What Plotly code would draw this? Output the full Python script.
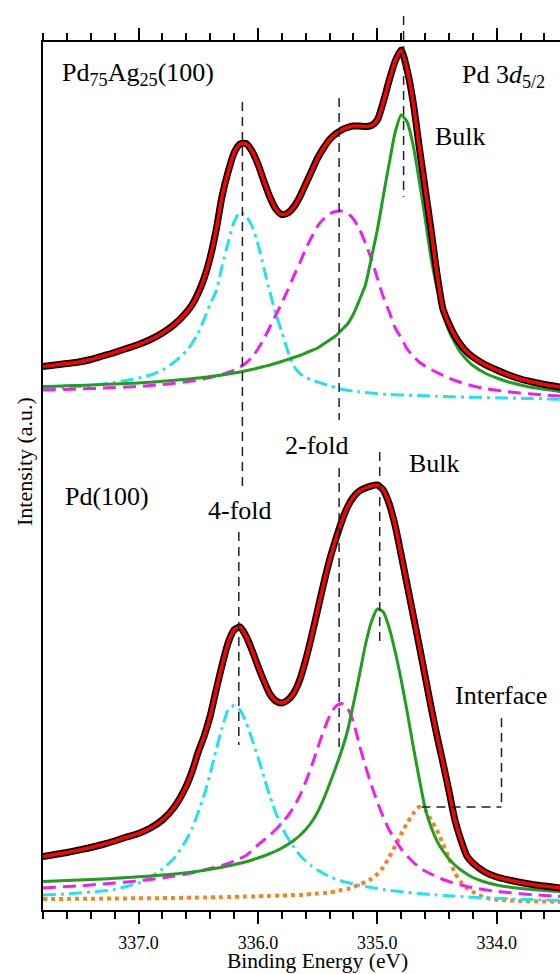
import plotly.graph_objects as go

# ---------------- data ----------------
ENERGY_EV = [337.8, 337.7, 337.6, 337.5, 337.4, 337.3, 337.2, 337.1, 337.0, 336.9, 336.8, 336.7,
             336.6, 336.55, 336.5, 336.45, 336.4, 336.35, 336.3, 336.25, 336.2, 336.15, 336.1, 336.05,
             336.0, 335.95, 335.9, 335.85, 335.8, 335.75, 335.7, 335.65, 335.6, 335.55, 335.5, 335.45,
             335.4, 335.35, 335.3, 335.25, 335.2, 335.15, 335.1, 335.05, 335.0, 334.95, 334.9, 334.85,
             334.8, 334.75, 334.7, 334.65, 334.6, 334.55, 334.5, 334.45, 334.4, 334.35, 334.3, 334.25,
             334.2, 334.1, 334.0, 333.9, 333.8, 333.7, 333.6, 333.5, 333.4]

# Pd75Ag25(100) spectrum (intensity, a.u.)
PDAG_ENVELOPE = [33.5, 35, 36.5, 38, 40.5, 44, 47.5, 51.5, 55.5, 60.5, 67, 75.5,
                 87.5, 95.5, 107, 122, 142.5, 170, 204, 228, 247, 256, 256.5, 249,
                 236, 219, 203, 191, 185.5, 187, 193, 203, 216, 229, 242, 252,
                 260.5, 266, 270, 272.5, 274, 274, 273.5, 274.5, 280, 298, 320, 339,
                 350, 330, 298, 254, 212, 170, 126, 91, 76, 64, 55, 48,
                 43, 35.5, 30, 25, 21, 18, 15.5, 13.5, 11.5]
PDAG_4FOLD = [11.8, 12.2, 12.8, 13.5, 14.5, 16, 17.5, 19.5, 22, 25, 30, 38,
              49, 57, 67, 81, 96, 109, 134, 157, 178, 188, 184, 174,
              156, 132, 108, 86, 68, 49, 34, 26.5, 22.5, 20, 18, 16,
              14.2, 12.3, 10.8, 9.7, 9, 8.2, 7.5, 7, 6.3, 5.8, 5.5, 5.2,
              5, 4.8, 4.6, 4.4, 4.2, 4, 3.8, 3.5, 3.3, 3.1, 3, 2.9,
              2.8, 2.5, 2.2, 2, 1.7, 1.4, 1.1, 0.8, 0.5]
PDAG_2FOLD = [10, 10.3, 10.6, 11, 11.4, 11.9, 12.4, 13, 13.7, 14.5, 15.5, 16.7,
              18.2, 19, 20, 21.2, 22.5, 24, 25.5, 27.5, 30, 33, 37, 43,
              51, 61, 73, 85, 97, 110, 124, 137, 151, 163, 174, 181,
              186, 188.5, 189, 187, 181, 171, 157, 141, 122, 103, 88, 72,
              62, 51, 44, 38, 34, 30.5, 27.5, 24.5, 22, 19.5, 17.5, 15.7,
              14, 11.5, 9.7, 8.2, 7, 6, 5, 4.2, 3.5]
PDAG_BULK = [13.5, 13.8, 14.2, 14.6, 15, 15.5, 16, 16.5, 17, 17.8, 18.7, 19.7,
             20.8, 21.4, 22, 22.7, 23.4, 24.2, 25, 26, 27, 28, 29.2, 30.5,
             32, 33.5, 35, 36.7, 38.5, 40.5, 42.5, 44.5, 47, 49.5, 52, 56,
             60, 64, 70, 76, 86, 100, 115, 142, 170, 204, 237, 268,
             285, 278, 255, 220, 182, 142, 112, 87, 69, 57, 47, 40,
             34.5, 27, 22, 18, 15, 12.5, 10.7, 9, 7.7]

# Pd(100) spectrum (intensity, a.u.)
PD_ENVELOPE = [53, 55, 57, 59.5, 62, 65, 68.5, 72.5, 76, 81.5, 89.5, 102.5,
               123.5, 138.5, 157.5, 173.5, 193.5, 219.5, 244.5, 266.5, 279.5, 282.5, 273.5, 259.5,
               243.5, 228.5, 215.5, 208.5, 206.5, 209.5, 216.5, 229.5, 249.5, 273.5, 299.5, 325.5,
               349.5, 369.5, 387.5, 402.5, 412.5, 418.5, 421.5, 423.5, 424.5, 419.5, 405.5, 383.5,
               354.5, 324.5, 294.5, 264.5, 233.5, 202.5, 173.5, 146.5, 118.5, 89.5, 69.5, 53.5,
               46.5, 37.5, 32.5, 29.5, 27, 25, 23.5, 22, 20.5]
PD_4FOLD = [14.5, 15, 15.5, 16.5, 17.5, 18.5, 20, 23, 26.5, 32.5, 40.5, 51.5,
            69.5, 81.5, 97.5, 114.5, 135.5, 159.5, 181.5, 199.5, 204, 199.5, 187.5, 170.5,
            152.5, 132.5, 113.5, 96.5, 82.5, 71.5, 62.5, 54.5, 48.5, 43.5, 39.5, 36,
            33, 30.5, 28.5, 27, 25.5, 24, 23, 22, 21, 20, 19.2, 18.5,
            17.8, 17.2, 16.5, 16, 15.5, 15, 14.5, 14.1, 13.7, 13.3, 12.9, 12.5,
            12.2, 11.7, 11.2, 10.7, 10.3, 9.9, 9.5, 9.2, 8.9]
PD_2FOLD = [21.5, 22.2, 23, 23.7, 24.5, 25.5, 26.5, 27.5, 28.7, 30, 31.5, 33.5,
            35.5, 36.7, 38, 39.5, 41, 42.5, 44, 46, 48.5, 51, 54, 59,
            64.5, 69.5, 74.5, 80, 86.5, 93.5, 102.5, 113.5, 127.5, 143.5, 161.5, 178.5,
            193.5, 203, 206, 201.5, 187.5, 164.5, 143.5, 124.5, 107.5, 92.5, 79.5, 69.5,
            60.5, 53.5, 47.5, 42.5, 38.5, 35.5, 32.5, 30, 28, 26.2, 24.5, 23,
            21.8, 19.8, 18.2, 16.9, 15.8, 14.9, 14.1, 13.4, 12.7]
PD_BULK = [28, 28.5, 29, 29.5, 30, 30.5, 31.2, 31.9, 32.7, 33.5, 34.5, 35.5,
           36.8, 37.5, 38.3, 39.2, 40.2, 41.2, 42.3, 43.5, 44.8, 46.2, 47.8, 49.5,
           51.5, 53.5, 56, 58.5, 61.5, 65, 69, 74, 80, 87.5, 97.5, 110.5,
           125.5, 141.5, 158.5, 178.5, 205.5, 234.5, 264.5, 287.5, 300.5, 297.5, 281.5, 257.5,
           229.5, 197.5, 163.5, 131.5, 101.5, 82.5, 68.5, 58.5, 50.5, 44.5, 39.5, 35.5,
           32, 27.5, 24.5, 22.5, 21, 20, 19, 18.2, 17.5]
PD_INTERFACE = [10.5, 10.5, 10.6, 10.7, 10.8, 10.9, 11, 11.1, 11.2, 11.3, 11.4, 11.5,
                11.7, 11.8, 11.9, 12, 12.1, 12.2, 12.3, 12.5, 12.6, 12.7, 12.9, 13,
                13.2, 13.4, 13.6, 13.8, 14, 14.2, 14.4, 14.5, 15, 15.5, 16, 16.5,
                17.2, 18, 19.5, 20.5, 22.5, 25, 27.5, 30.5, 35.5, 42.5, 52.5, 63.5,
                75.5, 86.5, 96, 102.5, 99.5, 89.5, 79, 65.5, 51.5, 36.5, 27.5, 21.5,
                17.5, 12, 9.8, 9, 8.5, 8.2, 8, 7.8, 7.7]

for arr in (PDAG_ENVELOPE, PDAG_4FOLD, PDAG_2FOLD, PDAG_BULK,
            PD_ENVELOPE, PD_4FOLD, PD_2FOLD, PD_BULK, PD_INTERFACE):
    assert len(arr) == len(ENERGY_EV), len(arr)

# peak markers (binding energy, eV)
PDAG_PEAKS = {"4-fold": 336.13, "2-fold": 335.32, "Bulk": 334.78}
PD_PEAKS = {"4-fold": 336.16, "2-fold": 335.32, "Bulk": 334.98, "Interface": 334.63}
INTERFACE_BRACKET_END = 333.96

X_TICKS = [337.0, 336.0, 335.0, 334.0]
X_TICK_TEXT = ["337.0", "336.0", "335.0", "334.0"]

# ---------------- presentation ----------------
PDAG_OFFSET = 509.5          # vertical stacking offset of the upper spectrum
W, H = 560, 974
ML, MT, MB = 43, 42, 64
PLOT_W, PLOT_H = W - ML, H - MT - MB
FONT = "Liberation Serif"

def pxx(px):
    return (px - ML) / PLOT_W

def pyy(py):
    return (H - MB - py) / PLOT_H

CYAN = "#22e2ec"
MAGENTA = "#f01ef0"
GREEN = "#1f9e1f"
ORANGE = "#f5841f"
RED = "#ff0000"

fig = go.Figure()

def add_spectrum(env, comps, offset):
    for vals, color, dash, width in comps:
        fig.add_trace(go.Scatter(
            x=ENERGY_EV, y=[v + offset for v in vals], mode="lines",
            line=dict(color=color, width=width, dash=dash, shape="spline", smoothing=0.6),
            hoverinfo="skip"))
    yv = [v + offset for v in env]
    fig.add_trace(go.Scatter(
        x=ENERGY_EV, y=yv, mode="lines+markers",
        line=dict(color="black", width=7, shape="spline", smoothing=0.6),
        marker=dict(color="black", size=6), hoverinfo="skip"))
    fig.add_trace(go.Scatter(
        x=ENERGY_EV, y=yv, mode="lines",
        line=dict(color=RED, width=3.5, shape="spline", smoothing=0.6),
        hoverinfo="skip"))

add_spectrum(PDAG_ENVELOPE, [
    (PDAG_4FOLD, CYAN, "13px,5px,3px,5px", 3),
    (PDAG_2FOLD, MAGENTA, "13px,7px", 3),
    (PDAG_BULK, GREEN, "solid", 3),
], PDAG_OFFSET)

add_spectrum(PD_ENVELOPE, [
    (PD_INTERFACE, ORANGE, "4px,4px", 4),
    (PD_4FOLD, CYAN, "13px,5px,3px,5px", 3),
    (PD_2FOLD, MAGENTA, "13px,7px", 3),
    (PD_BULK, GREEN, "solid", 3),
], 0)

# dashed peak-position markers (pixel extents)
dash_line = dict(color="#222222", width=1.5, dash="9px,6px")
segments = [
    (PDAG_PEAKS["4-fold"], 102, 487),
    (PD_PEAKS["4-fold"], 532, 745),
    (PDAG_PEAKS["2-fold"], 98, 420),
    (PD_PEAKS["2-fold"], 468, 748),
    (PDAG_PEAKS["Bulk"], 16, 197),
    (PD_PEAKS["Bulk"], 452, 647),
    (INTERFACE_BRACKET_END, 718, 807),
]
shapes = []
for e, p0, p1 in segments:
    shapes.append(dict(type="line", xref="x", yref="paper", x0=e, x1=e,
                       y0=pyy(p0), y1=pyy(p1), line=dash_line))
shapes.append(dict(type="line", xref="x", yref="paper", x0=PD_PEAKS["Interface"],
                   x1=INTERFACE_BRACKET_END, y0=pyy(807), y1=pyy(807), line=dash_line))

LABEL = 26
texts = [
    ("Pd<sub>75</sub>Ag<sub>25</sub>(100)", 60, 74),
    ("Pd 3<i>d</i><sub>5/2</sub>", 460, 76),
    ("Bulk", 433, 136),
    ("2-fold", 283, 445),
    ("Bulk", 407, 464),
    ("Pd(100)", 63, 496),
    ("4-fold", 206, 510),
    ("Interface", 453, 695),
]
annotations = []
for t, px, py in texts:
    annotations.append(dict(text=t, xref="paper", yref="paper", x=pxx(px), y=pyy(py),
                            xanchor="left", yanchor="middle", showarrow=False,
                            font=dict(family=FONT, size=LABEL, color="black")))
annotations.append(dict(text="Binding Energy (eV)", xref="paper", yref="paper",
                        x=pxx(317), y=pyy(974), xanchor="center", yanchor="bottom",
                        borderpad=0, showarrow=False,
                        font=dict(family=FONT, size=21.5, color="black")))
annotations.append(dict(text="Intensity (a.u.)", xref="paper", yref="paper",
                        x=pxx(24), y=pyy(462), xanchor="center", yanchor="middle",
                        textangle=-90, showarrow=False,
                        font=dict(family=FONT, size=22, color="black")))

fig.update_layout(
    width=W, height=H,
    margin=dict(l=ML, r=0, t=MT, b=MB, pad=0),
    plot_bgcolor="white", paper_bgcolor="white",
    showlegend=False,
    font=dict(family=FONT, color="black"),
    shapes=shapes, annotations=annotations,
    xaxis=dict(range=[337.8, 333.47], tickmode="array", tickvals=X_TICKS, ticktext=X_TICK_TEXT,
               ticks="outside", ticklen=12, tickwidth=1.5, tickcolor="black",
               showline=True, linecolor="black", linewidth=1.5, mirror="ticks",
               showgrid=False, zeroline=False, ticklabelstandoff=4,
               tickfont=dict(family=FONT, size=18, color="black"),
               minor=dict(tick0=0, dtick=0.2, ticks="outside", ticklen=7, tickwidth=1.5,
                          tickcolor="black", showgrid=False)),
    yaxis=dict(range=[-0.5, 867.5], showline=True, linecolor="black", linewidth=1.5,
               ticks="", showticklabels=False, showgrid=False, zeroline=False),
)

fig.write_html("out.html", config={"displayModeBar": False})

# remove the default page margin so the figure sits at the window's top-left corner
with open("out.html", encoding="utf-8") as f:
    html = f.read()
html = html.replace("<head>", "<head><style>html,body{margin:0;padding:0;overflow:hidden;}</style>", 1)
with open("out.html", "w", encoding="utf-8") as f:
    f.write(html)
